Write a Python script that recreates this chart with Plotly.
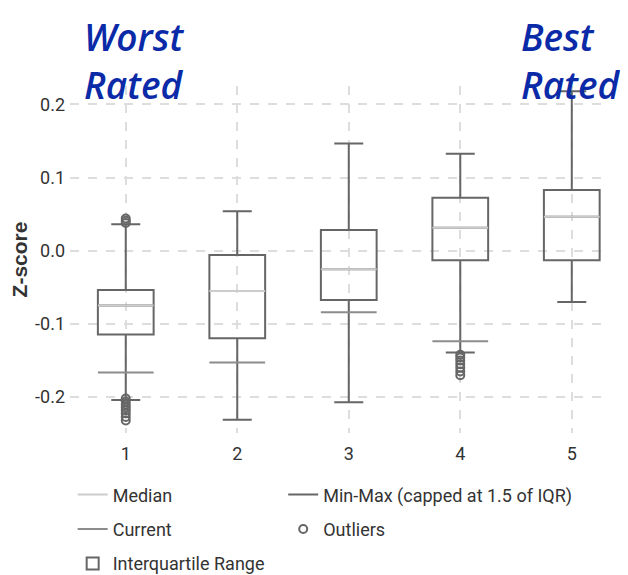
import plotly.graph_objects as go

categories = [1, 2, 3, 4, 5]
q1 = [-0.1146, -0.1195, -0.0673, -0.0131, -0.0131]
median = [-0.075, -0.055, -0.0254, 0.0314, 0.0464]
q3 = [-0.0536, -0.0059, 0.0282, 0.0723, 0.0828]
lower = [-0.204, -0.231, -0.2069, -0.139, -0.070]
upper = [0.036, 0.054, 0.1465, 0.1324, 0.2179]
current = [-0.1664, -0.1528, -0.084, -0.1236, None]

outlier_cat = [1, 1, 1, 1, 1, 1, 1, 1, 1, 1, 1, 4, 4, 4, 4, 4, 4, 4]
outlier_val = [0.038, 0.041, 0.044, -0.202, -0.206, -0.210, -0.214, -0.218, -0.222,
               -0.227, -0.232, -0.142, -0.146, -0.150, -0.155, -0.160, -0.165, -0.170]

y_ticks = [-0.2, -0.1, 0.0, 0.1, 0.2]
y_ticktext = ["-0.2", "-0.1", "0.0", "0.1", "0.2"]

BOX_W = 0.5
DARK = "#666666"
MED = "#cccccc"
CUR = "#8c8c8c"
FONT = "Roboto, sans-serif"

fig = go.Figure()

# IQR boxes with whiskers
fig.add_trace(go.Box(
    x=categories, q1=q1, median=median, q3=q3, lowerfence=lower, upperfence=upper,
    width=BOX_W, whiskerwidth=0.52, line=dict(color=DARK, width=2),
    fillcolor="rgba(0,0,0,0)", name="Interquartile Range", boxpoints=False,
    legend="legend", legendgroup="iqr", legendrank=3, hoverinfo="skip",
))

def seg(values):
    xs, ys = [], []
    for c, v in zip(categories, values):
        if v is None:
            continue
        xs += [c - BOX_W / 2, c + BOX_W / 2, None]
        ys += [v, v, None]
    return xs, ys

mx, my = seg(median)
fig.add_trace(go.Scatter(x=mx, y=my, mode="lines", line=dict(color=MED, width=2),
                         name="Median", legend="legend", legendgroup="med", legendrank=1,
                         hoverinfo="skip"))
cx, cy = seg(current)
fig.add_trace(go.Scatter(x=cx, y=cy, mode="lines", line=dict(color=CUR, width=2),
                         name="Current", legend="legend", legendgroup="cur", legendrank=2,
                         hoverinfo="skip"))
fig.add_trace(go.Scatter(x=[None], y=[None], mode="lines", line=dict(color=DARK, width=2),
                         name="Min-Max (capped at 1.5 of IQR)", legend="legend2",
                         legendgroup="mm", legendrank=1))
fig.add_trace(go.Scatter(x=outlier_cat, y=outlier_val, mode="markers",
                         marker=dict(symbol="circle-open", size=8, color=DARK,
                                     line=dict(width=2, color=DARK)),
                         name="Outliers", legend="legend2", legendgroup="out", legendrank=2,
                         hoverinfo="skip"))

legend_common = dict(
    orientation="v", font=dict(family=FONT, size=18, color="#333333"),
    bgcolor="rgba(0,0,0,0)", tracegroupgap=8, xanchor="left", yanchor="top",
    itemclick=False, itemdoubleclick=False,
)

# page body has an 8px margin, so the figure is sized to fit the 628x575 window
fig.update_layout(
    width=620, height=567,
    margin=dict(l=62, r=25, t=78, b=142, autoexpand=False),
    paper_bgcolor="white", plot_bgcolor="white",
    showlegend=True,
    legend=dict(x=0.005, y=-0.125, **legend_common),
    legend2=dict(x=0.40, y=-0.125, **legend_common),
    xaxis=dict(range=[0.5, 5.28], tickvals=categories, ticktext=[str(c) for c in categories],
               showgrid=True, gridcolor="#dddddd", griddash="dash", gridwidth=1.5,
               zeroline=False, showline=False, ticks="", automargin=False,
               ticklabelstandoff=8,
               tickfont=dict(family=FONT, size=18, color="#333333")),
    yaxis=dict(range=[-0.249, 0.225], tickvals=y_ticks, ticktext=y_ticktext,
               showgrid=True, gridcolor="#dddddd", griddash="dash", gridwidth=1.5,
               zeroline=False, showline=False, ticks="", automargin=False,
               ticklabelstandoff=4,
               tickfont=dict(family=FONT, size=18, color="#333333"),
               title=dict(text="<b>Z-score</b>", font=dict(family="Liberation Sans, Arial", size=21,
                                                           color="#333333"), standoff=6)),
    annotations=[
        dict(text="<i>Worst<br>Rated</i>", xref="paper", yref="paper", x=0.022, y=1.222,
             xanchor="left", yanchor="top", align="left", showarrow=False,
             font=dict(family="Open Sans", size=37, color="#0a2aa8", weight=600)),
        dict(text="<i>Best<br>Rated</i>", xref="paper", yref="paper", x=0.843, y=1.222,
             xanchor="left", yanchor="top", align="left", showarrow=False,
             font=dict(family="Open Sans", size=37, color="#0a2aa8", weight=600)),
    ],
)

fig.write_html("out.html")
